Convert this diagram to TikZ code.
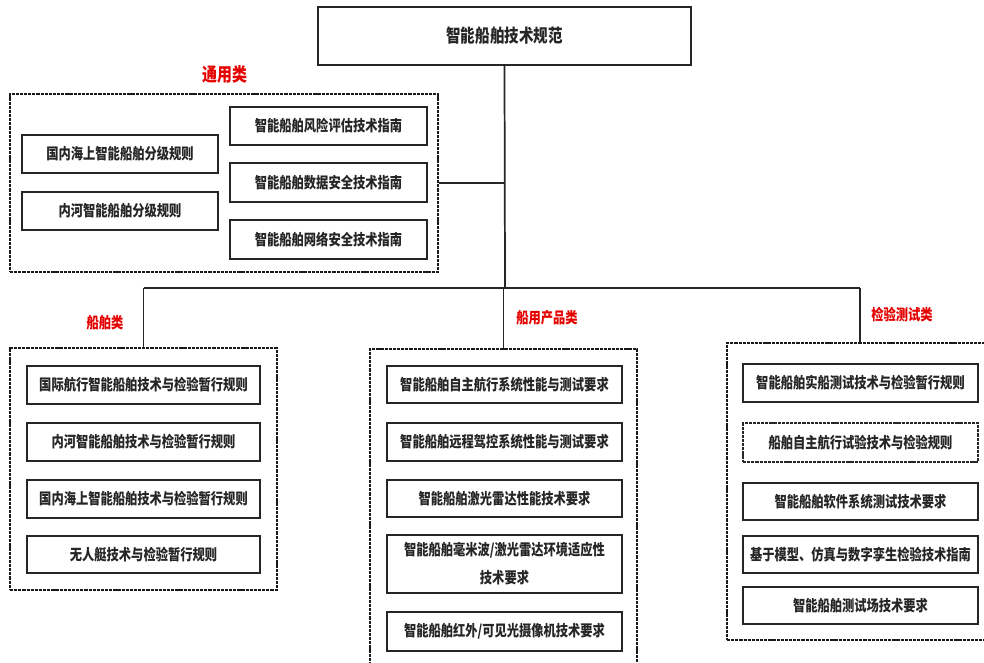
\documentclass[tikz,border=0pt]{standalone}
\usepackage{fontspec}
\newfontfamily\cjk{Noto Sans CJK SC}[FakeStretch=0.8]
\usetikzlibrary{positioning}
\newcommand\bx[7][]{%
  \node[box,#1,minimum width={(#4-#2)*0.75pt},minimum height={(#5-#3)*0.75pt}] (#6) at ({(#2+#4)/2},{(#3+#5)/2}) {#7};}
\newcommand\grp[5]{%
  \node[group,minimum width={(#4-#2)*0.75pt},minimum height={(#5-#3)*0.75pt}] (#1) at ({(#2+#4)/2},{(#3+#5)/2}) {};}
\begin{document}
\begin{tikzpicture}[x=0.75pt,y=-0.75pt,
  box/.style={draw=black!85,line width=1.5pt,fill=white,inner sep=0pt,align=center,
    font=\cjk\bfseries\fontsize{11.5}{21}\selectfont,text=black!85},
  group/.style={draw=black!90,line width=1.8pt,dash pattern=on 2.4pt off 0.7pt,inner sep=0pt},
  cat/.style={text=red!90!black,font=\cjk\bfseries\fontsize{11.5}{13}\selectfont,inner sep=0pt},
  link/.style={draw=black!85,line width=1.3pt}]
\useasboundingbox (0,0) rectangle (984,662);
\clip (0,0) rectangle (984,662);
\fill[white] (0,0) rectangle (984,662);
% top
\bx[font=\cjk\bfseries\fontsize{13.6}{16}\selectfont]{318}{7}{691}{65}{top}{智能船舶技术规范}
% groups
\grp{gen}{10}{94}{438}{272}
\grp{ship}{10}{348}{277}{590}
\grp{prod}{370}{349}{637}{676}
\grp{test}{727}{343}{993}{640}
% category labels
\node[cat,font=\cjk\bfseries\fontsize{14}{16}\selectfont] (cgen) at (225,74) {通用类};
\node[cat] (cship) at (105,323) {船舶类};
\node[cat] (cprod) at (547,318) {船用产品类};
\node[cat] (ctest) at (902,315) {检验测试类};
% connectors
\coordinate (jg) at (505,183);
\coordinate (jb) at (505,288);
\coordinate (lb) at (143.5,288);
\coordinate (rb) at (860,288);
\draw[link] (top.south) -- (jb);
\draw[link] (jg) -- (gen.east |- jg);
\draw[link] (lb) -- (rb);
\draw[link] (lb) -- (ship.north);
\draw[link] (jb -| prod.north) -- (prod.north);
\draw[link] (rb) -- (test.north);
% general
\bx{22}{135}{218}{173}{g1}{国内海上智能船舶分级规则}
\bx{22}{192}{218}{230}{g2}{内河智能船舶分级规则}
\bx{230}{107}{427}{145}{g3}{智能船舶风险评估技术指南}
\bx{230}{163}{427}{202}{g4}{智能船舶数据安全技术指南}
\bx{230}{220}{427}{259}{g5}{智能船舶网络安全技术指南}
% ship
\bx{27}{366}{260}{404}{s1}{国际航行智能船舶技术与检验暂行规则}
\bx{27}{423}{260}{461}{s2}{内河智能船舶技术与检验暂行规则}
\bx{27}{480}{260}{518}{s3}{国内海上智能船舶技术与检验暂行规则}
\bx{27}{536}{260}{573}{s4}{无人艇技术与检验暂行规则}
% product
\bx{387}{366}{622}{403}{p1}{智能船舶自主航行系统性能与测试要求}
\bx{387}{423}{622}{461}{p2}{智能船舶远程驾控系统性能与测试要求}
\bx{387}{480}{622}{517}{p3}{智能船舶激光雷达性能技术要求}
\bx{387}{535}{622}{593}{p4}{智能船舶毫米波/激光雷达环境适应性\\技术要求}
\bx{387}{612}{622}{651}{p5}{智能船舶红外/可见光摄像机技术要求}
% test
\bx{743}{364}{978}{402}{t1}{智能船舶实船测试技术与检验暂行规则}
\bx[dash pattern=on 2.4pt off 0.7pt]{743}{423}{978}{462}{t2}{船舶自主航行试验技术与检验规则}
\bx{743}{483}{978}{520}{t3}{智能船舶软件系统测试技术要求}
\bx{743}{536}{978}{573}{t4}{基于模型、仿真与数字孪生检验技术指南}
\bx{743}{587}{978}{624}{t5}{智能船舶测试场技术要求}
\end{tikzpicture}
\end{document}
